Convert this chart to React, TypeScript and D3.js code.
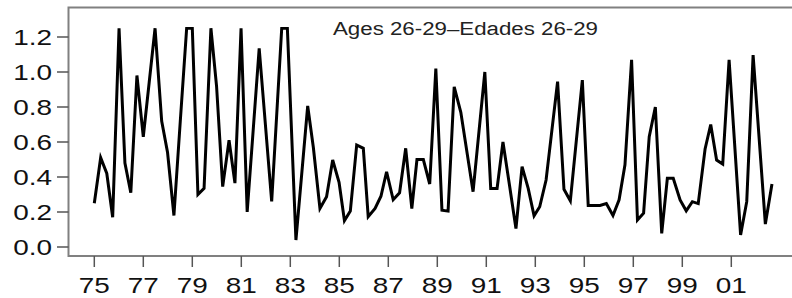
import React from "react";
import * as d3 from "d3";

// decimal year of each vertex and its value (values are capped at 1.25 in the source)
const years = [
  1975.0, 1975.26, 1975.51, 1975.75, 1976.01, 1976.25, 1976.49, 1976.74, 1977.0, 1977.24,
  1977.48, 1977.75, 1977.99, 1978.25, 1978.51, 1978.77, 1979.0, 1979.23, 1979.48, 1979.76,
  1979.99, 1980.24, 1980.5, 1980.74, 1980.99, 1981.24, 1981.73, 1982.24, 1982.65, 1982.88,
  1983.23, 1983.71, 1983.94, 1984.21, 1984.48, 1984.73, 1984.99, 1985.21, 1985.45, 1985.71,
  1985.98, 1986.18, 1986.46, 1986.7, 1986.93, 1987.2, 1987.46, 1987.71, 1987.96, 1988.17,
  1988.43, 1988.69, 1988.94, 1989.19, 1989.44, 1989.69, 1989.96, 1990.46, 1990.94, 1991.18,
  1991.44, 1991.68, 1991.95, 1992.21, 1992.46, 1992.71, 1992.95, 1993.18, 1993.44, 1993.91,
  1994.17, 1994.43, 1994.92, 1995.16, 1995.4, 1995.64, 1995.9, 1996.17, 1996.42, 1996.66,
  1996.93, 1997.17, 1997.42, 1997.65, 1997.9, 1998.16, 1998.39, 1998.63, 1998.91, 1999.16,
  1999.41, 1999.65, 1999.93, 2000.16, 2000.4, 2000.65, 2000.91, 2001.38, 2001.63, 2001.89,
  2002.39, 2002.66,
];
const values = [
  0.25, 0.51, 0.42, 0.17, 1.25, 0.48, 0.31, 0.98, 0.63, 0.94,
  1.25, 0.72, 0.54, 0.18, 0.72, 1.25, 1.25, 0.3, 0.335, 1.25,
  0.92, 0.345, 0.61, 0.365, 1.25, 0.2, 1.135, 0.26, 1.25, 1.25,
  0.04, 0.806, 0.57, 0.22, 0.287, 0.497, 0.37, 0.15, 0.205, 0.583,
  0.564, 0.173, 0.22, 0.29, 0.43, 0.27, 0.31, 0.564, 0.22, 0.5,
  0.5, 0.36, 1.02, 0.21, 0.205, 0.915, 0.77, 0.316, 1.0, 0.335,
  0.335, 0.6, 0.35, 0.105, 0.459, 0.335, 0.178, 0.23, 0.383, 0.945,
  0.33, 0.264, 0.954, 0.237, 0.237, 0.237, 0.248, 0.18, 0.27, 0.47,
  1.07, 0.154, 0.193, 0.63, 0.8, 0.078, 0.393, 0.393, 0.269, 0.207,
  0.259, 0.248, 0.56, 0.7, 0.497, 0.474, 1.069, 0.069, 0.259, 1.097,
  0.131, 0.36,
];
const xTicks = [1975, 1977, 1979, 1981, 1983, 1985, 1987, 1989, 1991, 1993, 1995, 1997, 1999, 2001];
const xTickLabels = ["75", "77", "79", "81", "83", "85", "87", "89", "91", "93", "95", "97", "99", "01"];
const yTicks = [0, 0.2, 0.4, 0.6, 0.8, 1.0, 1.2];
const title = "Ages 26-29\u2013Edades 26-29";

const W = 792;
const H = 298;
const frame = { left: 68.5, top: 7.5, bottom: 256 };
const font = "'Liberation Sans', Arial, sans-serif";
const sx = 1.27; // text in the source is stretched sideways

export default function App() {
  const x = d3.scaleLinear().domain([1975, 2001]).range([94.3, 731.3]);
  const y = d3.scaleLinear().domain([0, 1.2]).range([247, 37]);

  const pts = years.map((yr, i) => [yr, values[i]] as [number, number]);
  const line = d3
    .line<[number, number]>()
    .x((d) => x(d[0]))
    .y((d) => y(d[1]));

  // cut the miter spikes so capped peaks look flat like the source
  const clipTop = y(1.25) - 1.2;

  return (
    <svg
      width={W}
      height={H}
      style={{ position: "absolute", left: 0, top: 0, background: "#fff" }}
    >
      <defs>
        <clipPath id="plot">
          <rect x={frame.left} y={clipTop} width={W} height={frame.bottom - clipTop} />
        </clipPath>
      </defs>
      <rect width={W} height={H} fill="#fff" />

      {/* frame, right side runs off the picture */}
      <path
        d={`M${W + 5},${frame.top}H${frame.left}V${frame.bottom}H${W + 5}`}
        fill="none"
        stroke="#808080"
        strokeWidth={2}
      />

      {yTicks.map((t) => (
        <g key={t}>
          <line x1={57} x2={frame.left} y1={y(t)} y2={y(t)} stroke="#555" strokeWidth={1.5} />
          <text
            transform={`translate(52,${y(t) + 8}) scale(${sx},1)`}
            textAnchor="end"
            fontFamily={font}
            fontSize={22}
            fill="#111"
          >
            {t.toFixed(1)}
          </text>
        </g>
      ))}

      {xTicks.map((t, i) => (
        <g key={t}>
          <line x1={x(t)} x2={x(t)} y1={frame.bottom} y2={267} stroke="#555" strokeWidth={1.5} />
          <text
            transform={`translate(${x(t)},293) scale(${sx},1)`}
            textAnchor="middle"
            fontFamily={font}
            fontSize={22}
            fill="#111"
          >
            {xTickLabels[i]}
          </text>
        </g>
      ))}

      <text
        x={333}
        y={35}
        fontFamily={font}
        fontSize={18}
        fill="#222"
        textLength={265}
        lengthAdjust="spacingAndGlyphs"
      >
        {title}
      </text>

      <path
        d={line(pts) ?? ""}
        fill="none"
        stroke="#000"
        strokeWidth={3}
        strokeLinejoin="miter"
        clipPath="url(#plot)"
      />
    </svg>
  );
}
